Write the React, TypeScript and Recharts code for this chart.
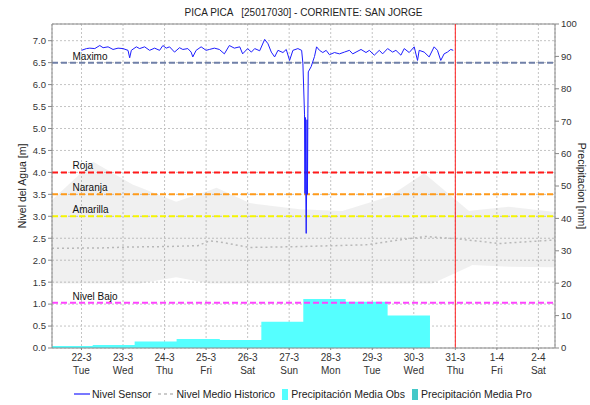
import { ComposedChart, Line, Area, XAxis, YAxis, CartesianGrid, ReferenceLine } from 'recharts'

const FONT = '"Liberation Sans", Arial, sans-serif'

// x axis: day index, 0 = 22-3
const dayTicks = [0, 1, 2, 3, 4, 5, 6, 7, 8, 9, 10, 11]
const dayLabels = ['22-3', '23-3', '24-3', '25-3', '26-3', '27-3', '28-3', '29-3', '30-3', '31-3', '1-4', '2-4']
const weekdayLabels = ['Tue', 'Wed', 'Thu', 'Fri', 'Sat', 'Sun', 'Mon', 'Tue', 'Wed', 'Thu', 'Fri', 'Sat']
const X_MIN = -0.71
const X_MAX = 11.4
const nowDay = 9

const levelTicks = [0, 0.5, 1, 1.5, 2, 2.5, 3, 3.5, 4, 4.5, 5, 5.5, 6, 6.5, 7]
const precipTicks = [0, 10, 20, 30, 40, 50, 60, 70, 80, 90, 100]

// Nivel Sensor [m]
const sensorDays = [
  0.0, 0.12, 0.2, 0.32, 0.44, 0.52, 0.64, 0.76, 0.88, 1.0, 1.12, 1.16, 1.2, 1.32, 1.4, 1.52, 1.64, 1.76, 1.88,
  1.96, 2.04, 2.12, 2.24, 2.36, 2.44, 2.56, 2.64, 2.68, 2.76, 2.88, 3.0, 3.08, 3.2, 3.32, 3.44, 3.56, 3.68, 3.81,
  3.88, 4.0, 4.09, 4.17, 4.29, 4.41, 4.49, 4.57, 4.65, 4.73, 4.85, 4.93, 5.01, 5.09, 5.21, 5.3, 5.33, 5.37, 5.38,
  5.39, 5.4, 5.41, 5.42, 5.43, 5.44, 5.45, 5.46, 5.53, 5.61, 5.66, 5.73, 5.81, 5.89, 5.97, 6.09, 6.21, 6.33, 6.45,
  6.53, 6.61, 6.73, 6.85, 6.93, 7.05, 7.17, 7.25, 7.37, 7.49, 7.57, 7.69, 7.77, 7.89, 8.01, 8.09, 8.13, 8.25, 8.37,
  8.49, 8.57, 8.65, 8.73, 8.81, 8.89, 8.95,
]
const sensorLevels = [
  6.78, 6.82, 6.83, 6.82, 6.89, 6.84, 6.86, 6.8, 6.83, 6.82, 6.78, 6.61, 6.78, 6.86, 6.82, 6.86, 6.78, 6.83, 6.78,
  6.89, 6.83, 6.86, 6.74, 6.84, 6.8, 6.82, 6.74, 6.63, 6.78, 6.86, 6.78, 6.8, 6.83, 6.8, 6.7, 6.89, 6.83, 6.86,
  6.7, 6.82, 6.74, 6.82, 6.77, 7.03, 6.93, 6.74, 6.63, 6.78, 6.73, 6.8, 6.55, 6.78, 6.82, 6.78, 6.49, 5.31, 3.52,
  5.25, 3.55, 2.61, 3.6, 5.2, 3.5, 5.35, 6.29, 6.41, 6.64, 6.86, 6.78, 6.73, 6.78, 6.68, 6.73, 6.7, 6.74, 6.78,
  6.7, 6.74, 6.8, 6.73, 6.78, 6.67, 6.78, 6.7, 6.82, 6.74, 6.78, 6.67, 6.82, 6.73, 6.86, 6.55, 6.78, 6.74, 6.63,
  6.86, 6.78, 6.55, 6.7, 6.74, 6.8, 6.78,
]

// Nivel Medio Historico [m]
const meanDays = [-0.71, 0.5, 1.16, 2.0, 2.8, 3.08, 3.3, 4.05, 5.25, 6.04, 6.85, 7.65, 8.29, 9.01, 10.06, 11.4]
const meanLevels = [2.27, 2.28, 2.3, 2.31, 2.33, 2.44, 2.42, 2.29, 2.31, 2.33, 2.35, 2.46, 2.54, 2.49, 2.38, 2.46]

// historic min / max band [m]
const bandDays = [-0.71, 0.28, 1.24, 1.4, 2.28, 3.08, 3.25, 4.05, 5.25, 6.28, 7.41, 8.25, 8.45, 9.33, 9.41, 10.29, 11.4]
const bandLow = [1.47, 1.47, 1.47, 1.47, 1.61, 1.47, 1.47, 1.47, 1.47, 1.47, 1.47, 1.47, 1.47, 1.85, 1.89, 1.85, 1.84]
const bandHigh = [3.37, 4.24, 3.72, 3.66, 3.33, 3.59, 3.65, 3.3, 3.16, 3.12, 3.45, 3.98, 3.82, 3.12, 3.13, 3.22, 3.1]

// Precipitación Media Obs [mm], one value per day starting at precipDays[i]
const precipDays = [-0.71, 0.27, 1.28, 2.29, 3.33, 4.33, 5.34, 6.36, 7.37, 8.39]
const precipObs = [0.6, 0.9, 2.0, 2.8, 2.5, 8.1, 15.1, 14.3, 10.0, 0]

// threshold levels [m]
const thresholdNames = ['Maximo', 'Roja', 'Naranja', 'Amarilla', 'Nivel Bajo']
const thresholdLevels = [6.5, 4.0, 3.5, 3.0, 1.03]
const THRESHOLD_COLORS = ['#7080a8', '#ff1a1a', '#ff9a1a', '#f5f500', '#ff44ff']

const sensorData = sensorDays.map((d, i) => ({ d, v: sensorLevels[i] }))
const meanData = meanDays.map((d, i) => ({ d, v: meanLevels[i] }))
const bandData = bandDays.map((d, i) => ({ d, range: [bandLow[i], bandHigh[i]] }))
const precipData = precipDays.map((d, i) => ({ d, v: precipObs[i] }))

const LEVEL_MAX = 7.38

function XTick({ x, y, payload }: any) {
  const i = payload.value
  return (
    <g transform={`translate(${x},${y})`}>
      <text textAnchor="middle" y={8.5} fontSize={10} fill="#333" fontFamily={FONT}>
        {dayLabels[i]}
      </text>
      <text textAnchor="middle" y={21.5} fontSize={10} fill="#333" fontFamily={FONT}>
        {weekdayLabels[i]}
      </text>
    </g>
  )
}

function thresholdLabel(name: string) {
  return (props: any) => {
    const vb = props.viewBox
    return (
      <text x={vb.x + 20.5} y={vb.y - 3} fontSize={10} fill="#111" fontFamily={FONT}>
        {name}
      </text>
    )
  }
}

const tickStyle = { fontSize: 9.5, fill: '#333', fontFamily: FONT }

export default function App() {
  return (
    <div style={{ position: 'absolute', left: 0, top: 0, width: 590, height: 405, background: '#fff', fontFamily: FONT }}>
      <div
        style={{
          position: 'absolute', left: 52, width: 503, top: 6, textAlign: 'center',
          fontSize: 10, lineHeight: '14px', whiteSpace: 'pre', color: '#222',
        }}
      >
        {'PICA PICA   [25017030] - CORRIENTE: SAN JORGE'}
      </div>
      <ComposedChart width={590} height={405} margin={{ top: 24, right: 0, bottom: 27, left: 8 }}>
        <CartesianGrid yAxisId="m" stroke="#c4c4c4" strokeDasharray="2 2" ticks={levelTicks} />
        <XAxis
          dataKey="d"
          type="number"
          domain={[X_MIN, X_MAX]}
          ticks={dayTicks}
          interval={0}
          allowDataOverflow
          height={30}
          stroke="#888"
          tickSize={2}
          tickMargin={2}
          tick={<XTick />}
        />
        <YAxis
          yAxisId="m"
          domain={[0, LEVEL_MAX]}
          ticks={levelTicks}
          interval={0}
          allowDataOverflow
          width={44}
          stroke="#888"
          tickSize={4}
          tickMargin={2}
          tick={tickStyle}
          tickFormatter={(v: number) => v.toFixed(1)}
          label={(props: any) => {
            const vb = props.viewBox
            const cx = vb.x + 14
            const cy = vb.y + vb.height / 2
            return (
              <text x={cx} y={cy} transform={`rotate(-90 ${cx} ${cy})`} textAnchor="middle" dy={4} fontSize={10.5} fill="#222" fontFamily={FONT}>
                Nivel del Agua [m]
              </text>
            )
          }}
        />
        <YAxis
          yAxisId="mm"
          orientation="right"
          domain={[0, 100]}
          ticks={precipTicks}
          interval={0}
          width={35}
          stroke="#888"
          tickSize={4}
          tickMargin={2}
          tick={tickStyle}
          label={(props: any) => {
            const vb = props.viewBox
            const cx = vb.x + 27
            const cy = vb.y + vb.height / 2
            return (
              <text x={cx} y={cy} transform={`rotate(90 ${cx} ${cy})`} textAnchor="middle" dy={4} fontSize={10.5} fill="#222" fontFamily={FONT}>
                Precipitacion [mm]
              </text>
            )
          }}
        />
        <Area
          yAxisId="m"
          data={bandData}
          dataKey="range"
          type="linear"
          stroke="none"
          fill="#808080"
          fillOpacity={0.12}
          isAnimationActive={false}
          activeDot={false}
        />
        <Area
          yAxisId="mm"
          data={precipData}
          dataKey="v"
          type="stepAfter"
          stroke="none"
          fill="#55ffff"
          fillOpacity={1}
          isAnimationActive={false}
          activeDot={false}
        />
        <Line
          yAxisId="m"
          data={meanData}
          dataKey="v"
          type="linear"
          stroke="#b8b8b8"
          strokeWidth={1.5}
          strokeDasharray="2 3"
          dot={false}
          isAnimationActive={false}
        />
        <ReferenceLine yAxisId="mm" y={100} stroke="#888" />
        {thresholdLevels.map((lvl, i) => (
          <ReferenceLine
            key={thresholdNames[i]}
            yAxisId="m"
            y={lvl}
            stroke={THRESHOLD_COLORS[i]}
            strokeWidth={2}
            strokeDasharray="6 3"
            label={thresholdLabel(thresholdNames[i])}
          />
        ))}
        <Line
          yAxisId="m"
          data={sensorData}
          dataKey="v"
          type="linear"
          stroke="#1e1eff"
          strokeWidth={1}
          dot={false}
          isAnimationActive={false}
        />
        <ReferenceLine yAxisId="m" x={nowDay} stroke="#ff2020" strokeWidth={1} />
      </ComposedChart>
      <div
        style={{
          position: 'absolute', left: 74, top: 387, display: 'flex', alignItems: 'center',
          fontSize: 10.5, lineHeight: '14px', color: '#222', whiteSpace: 'nowrap',
        }}
      >
        <svg width={16} height={10} style={{ marginRight: 2 }}>
          <line x1={0} y1={5} x2={16} y2={5} stroke="#1e1eff" strokeWidth={1.2} />
        </svg>
        <span style={{ marginRight: 6 }}>Nivel Sensor</span>
        <svg width={16} height={10} style={{ marginRight: 3 }}>
          <line x1={0} y1={5} x2={16} y2={5} stroke="#bbb" strokeWidth={1.5} strokeDasharray="3 3" />
        </svg>
        <span style={{ marginRight: 7 }}>Nivel Medio Historico</span>
        <span style={{ width: 6, height: 11, background: '#55ffff', marginRight: 3, display: 'inline-block' }} />
        <span style={{ marginRight: 7 }}>Precipitación Media Obs</span>
        <span style={{ width: 6, height: 11, background: '#44c8c8', marginRight: 3, display: 'inline-block' }} />
        <span>Precipitación Media Pro</span>
      </div>
    </div>
  )
}
